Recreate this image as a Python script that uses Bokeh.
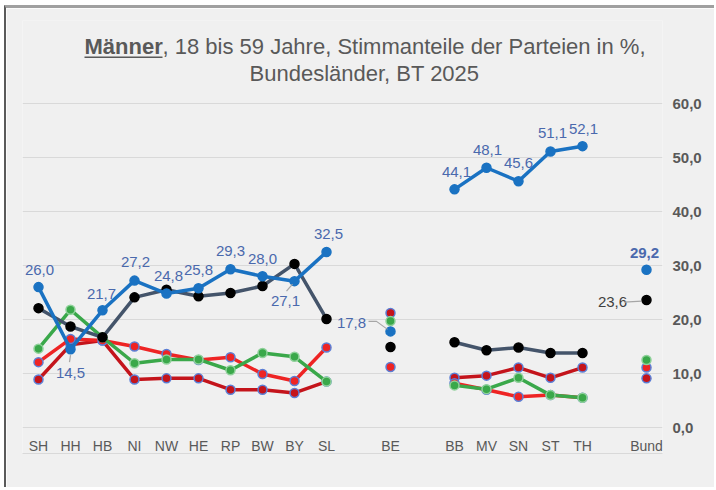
from bokeh.plotting import figure
from bokeh.models import (Range1d, LinearAxis, FixedTicker, Label, BoxAnnotation,
                          ColumnDataSource, Grid)
from bokeh.core.properties import value
from bokeh.embed import file_html
from bokeh.resources import INLINE

# ---------------- data ----------------
states = ["SH", "HH", "HB", "NI", "NW", "HE", "RP", "BW", "BY", "SL",
          "BE", "BB", "MV", "SN", "ST", "TH", "Bund"]
group_sizes = [10, 1, 5, 1]   # West, Berlin, Ost, Bund
afd    = [26.0, 14.5, 21.7, 27.2, 24.8, 25.8, 29.3, 28.0, 27.1, 32.5,
          17.8, 44.1, 48.1, 45.6, 51.1, 52.1, 29.2]
union  = [22.1, 18.7, 16.7, 24.1, 25.5, 24.3, 24.9, 26.2, 30.3, 20.1,
          14.9, 15.8, 14.3, 14.8, 13.8, 13.8, 23.6]
gruene = [14.6, 21.8, 16.7, 11.9, 12.6, 12.6, 10.6, 13.8, 13.1, 8.5,
          19.7, 7.8, 7.1, 9.2, 6.0, 5.5, 12.5]
spd    = [12.1, 16.4, 16.1, 15.0, 13.6, 12.5, 13.0, 9.9, 8.6, 14.8,
          11.2, 8.2, 7.0, 5.7, 6.0, 5.5, 11.1]
linke  = [8.9, 15.3, 16.1, 8.9, 9.1, 9.1, 7.0, 7.0, 6.4, 8.5,
          21.2, 9.2, 9.6, 11.1, 9.2, 11.1, 9.1]
y_ticks = [0, 10, 20, 30, 40, 50, 60]

def fmt(v):
    return f"{v:.1f}".replace(".", ",")

# ---------------- layout helpers ----------------
xs = []
groups = []
pos = 0
idx = 0
for g in group_sizes:
    groups.append(list(range(idx, idx + g)))
    for _ in range(g):
        xs.append(pos)
        pos += 1
        idx += 1
    pos += 1

FONT = "Liberation Sans"
GRAY = "#595959"
LBL = "#4a69ad"

FRAME_W, FRAME_H = 640, 433
PXX = FRAME_W / 20.0
PXY = 5.4
y0 = -26 / PXY
p = figure(width=710, height=482, x_range=Range1d(-0.5, 19.5),
           y_range=Range1d(y0, y0 + FRAME_H / PXY),
           output_backend="svg", toolbar_location=None,
           x_axis_location=None, y_axis_location=None,
           min_border_left=16, min_border_right=54, min_border_top=12, min_border_bottom=37,
           background_fill_color="#f0f0f0", border_fill_color="#f0f0f0",
           outline_line_color=None)
p.styles = {"margin-left": "4px", "margin-top": "5px",
            "border-left": "2px solid #5a5a5a", "border-top": "3px solid #a0a0a0"}
p.xgrid.visible = False
p.ygrid.visible = False

grid = Grid(dimension=1, ticker=FixedTicker(ticks=y_ticks),
            grid_line_color="#d9d9d9", grid_line_width=1.2)
p.add_layout(grid)

xaxis = LinearAxis(ticker=FixedTicker(ticks=xs),
                   major_label_overrides={x: s for x, s in zip(xs, states)})
yaxis = LinearAxis(ticker=FixedTicker(ticks=y_ticks),
                   major_label_overrides={t: fmt(t) for t in y_ticks})
for ax in (xaxis, yaxis):
    ax.axis_line_color = None
    ax.major_tick_line_color = None
    ax.minor_tick_line_color = None
    ax.major_label_text_font = FONT
    ax.major_label_text_color = GRAY
xaxis.axis_line_color = "#d9d9d9"
xaxis.axis_line_width = 1.2
xaxis.major_label_text_font_size = "14px"
xaxis.major_label_standoff = -22
yaxis.major_label_text_font_size = "15px"
yaxis.major_label_text_font_style = "bold"
yaxis.major_label_standoff = 4
p.add_layout(xaxis, "below")
p.add_layout(yaxis, "right")

# ---------------- series ----------------
series = [
    (linke,  "#c4141b", "#c4141b", "#5b7fd6"),
    (spd,    "#ee2424", "#ee2424", "#5b7fd6"),
    (gruene, "#3aa84a", "#3aa84a", "#8fd19a"),
    (union,  "#44546a", "#000000", "#000000"),
    (afd,    "#1a72c2", "#1a72c2", "#1a72c2"),
]
for vals, lc, fc, oc in series:
    for g in groups:
        if len(g) > 1:
            p.line([xs[i] for i in g], [vals[i] for i in g], line_color=lc,
                   line_width=3.5, line_join="round", line_cap="round")
    p.scatter(xs, vals, size=9, fill_color=fc, line_color=oc, line_width=1.5)

# ---------------- data labels (AfD) ----------------
label_dx = [1, 0, -1, 1, 2, 0, 0, 0, -9, 2, -39, 2, 1, 0, 2, 1, -2]
label_dy = [-17, 24, -16, -19, -18, -18, -18, -17, 20, -18, -8, -17, -18, -18, -19, -17, -17]
src = ColumnDataSource(dict(x=xs[:-1], y=afd[:-1], t=[fmt(v) for v in afd[:-1]],
                            dx=label_dx[:-1], dy=label_dy[:-1]))
p.text("x", "y", text="t", x_offset="dx", y_offset="dy", source=src,
       text_font=value(FONT), text_font_size="15px", text_color=LBL,
       text_align="center", text_baseline="middle")
p.text([xs[-1]], [afd[-1]], text=[fmt(afd[-1])], x_offset=label_dx[-1], y_offset=label_dy[-1],
       text_font=value(FONT), text_font_size="15px", text_color=LBL, text_font_style="bold",
       text_align="center", text_baseline="middle")
p.text([xs[-1]], [union[-1]], text=[fmt(union[-1])], x_offset=-34, y_offset=2,
       text_font=value(FONT), text_font_size="15px", text_color="#404040",
       text_align="center", text_baseline="middle")

# leader lines (pixel offsets from the data point converted via scales)
def leader(i, vals, pts):
    p.line([xs[i] + dx / PXX for dx, dy in pts], [vals[i] - dy / PXY for dx, dy in pts],
           line_color="#a6a6a6", line_width=1.2)

leader(1, afd, [(-1, 13), (0, 6)])
leader(8, afd, [(-8, 10), (-2, 3)])
leader(10, afd, [(-22, -10), (-14, -10), (-3, -2)])
leader(16, union, [(-22, 2), (-5, 1)])

# ---------------- title ----------------
p.add_layout(Label(x=62, y=407, x_units="screen", y_units="screen", text="Männer",
                   text_font=FONT, text_font_size="22px", text_font_style="bold",
                   text_color=GRAY, text_align="left", text_baseline="middle"))
p.add_layout(Label(x=140, y=407, x_units="screen", y_units="screen",
                   text=", 18 bis 59 Jahre, Stimmanteile der Parteien in %,",
                   text_font=FONT, text_font_size="22px",
                   text_color=GRAY, text_align="left", text_baseline="middle"))
p.add_layout(Label(x=342, y=380, x_units="screen", y_units="screen",
                   text="Bundesländer, BT 2025",
                   text_font=FONT, text_font_size="22px",
                   text_color=GRAY, text_align="center", text_baseline="middle"))
p.add_layout(BoxAnnotation(left=62, right=140, bottom=395.5, top=397,
                           left_units="screen", right_units="screen",
                           bottom_units="screen", top_units="screen",
                           fill_color=GRAY, fill_alpha=1, line_color=None))

open("out.html", "w").write(file_html(p, INLINE))
